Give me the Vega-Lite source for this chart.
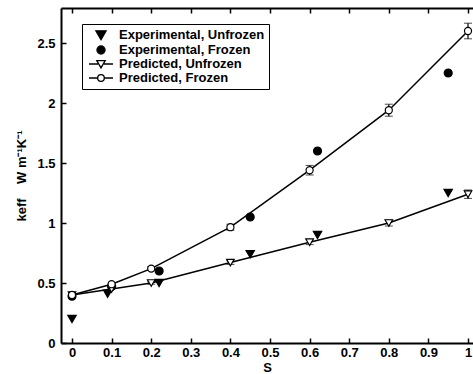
{
  "$schema": "https://vega.github.io/schema/vega-lite/v6.json",
  "width": 412,
  "height": 335,
  "autosize": {"type": "none"},
  "padding": {"left": 61, "top": 8, "right": 0, "bottom": 31},
  "background": "white",
  "config": {
    "view": {"stroke": null},
    "font": "Liberation Sans",
    "axis": {
      "grid": false,
      "domainColor": "black",
      "domainWidth": 2,
      "tickColor": "black",
      "tickWidth": 1.5,
      "tickSize": -5,
      "labelFont": "Liberation Sans",
      "labelFontWeight": "bold",
      "labelFontSize": 13,
      "labelColor": "black",
      "titleFont": "Liberation Sans",
      "titleFontWeight": "bold",
      "titleFontSize": 13,
      "titleColor": "black"
    },
    "legend": {
      "labelFont": "Liberation Sans", "labelFontWeight": "bold", "labelFontSize": 13, "labelColor": "black"
    }
  },
  "data": {
    "values": [
      {"series": "Experimental, Unfrozen", "S": 0, "k": 0.2},
      {"series": "Experimental, Unfrozen", "S": 0.09, "k": 0.41},
      {"series": "Experimental, Unfrozen", "S": 0.22, "k": 0.5},
      {"series": "Experimental, Unfrozen", "S": 0.45, "k": 0.74},
      {"series": "Experimental, Unfrozen", "S": 0.62, "k": 0.9},
      {"series": "Experimental, Unfrozen", "S": 0.95, "k": 1.25},
      {"series": "Experimental, Frozen", "S": 0, "k": 0.39},
      {"series": "Experimental, Frozen", "S": 0.1, "k": 0.47},
      {"series": "Experimental, Frozen", "S": 0.22, "k": 0.6},
      {"series": "Experimental, Frozen", "S": 0.45, "k": 1.05},
      {"series": "Experimental, Frozen", "S": 0.62, "k": 1.6},
      {"series": "Experimental, Frozen", "S": 0.95, "k": 2.25},
      {"series": "Predicted, Unfrozen", "S": 0, "k": 0.4, "lo": 0.39, "hi": 0.41},
      {"series": "Predicted, Unfrozen", "S": 0.1, "k": 0.45, "lo": 0.44, "hi": 0.46},
      {"series": "Predicted, Unfrozen", "S": 0.2, "k": 0.5, "lo": 0.49, "hi": 0.51},
      {"series": "Predicted, Unfrozen", "S": 0.4, "k": 0.67, "lo": 0.655, "hi": 0.685},
      {"series": "Predicted, Unfrozen", "S": 0.6, "k": 0.84, "lo": 0.82, "hi": 0.86},
      {"series": "Predicted, Unfrozen", "S": 0.8, "k": 1.0, "lo": 0.975, "hi": 1.025},
      {"series": "Predicted, Unfrozen", "S": 1.0, "k": 1.24, "lo": 1.205, "hi": 1.275},
      {"series": "Predicted, Frozen", "S": 0, "k": 0.4, "lo": 0.39, "hi": 0.41},
      {"series": "Predicted, Frozen", "S": 0.1, "k": 0.49, "lo": 0.48, "hi": 0.5},
      {"series": "Predicted, Frozen", "S": 0.2, "k": 0.62, "lo": 0.605, "hi": 0.635},
      {"series": "Predicted, Frozen", "S": 0.4, "k": 0.965, "lo": 0.94, "hi": 0.99},
      {"series": "Predicted, Frozen", "S": 0.6, "k": 1.44, "lo": 1.4, "hi": 1.48},
      {"series": "Predicted, Frozen", "S": 0.8, "k": 1.94, "lo": 1.89, "hi": 1.99},
      {"series": "Predicted, Frozen", "S": 1.0, "k": 2.6, "lo": 2.535, "hi": 2.665}
    ]
  },
  "resolve": {"axis": {"x": "independent"}, "scale": {"shape": "independent", "fill": "independent", "size": "independent", "stroke": "independent"}},
  "layer": [
    {
      "transform": [{"filter": "indexof(datum.series, 'Predicted') === 0"}],
      "mark": {"type": "line", "color": "black", "strokeWidth": 1.5},
      "encoding": {
        "x": {"field": "S", "type": "quantitative",
              "scale": {"domain": [-0.0278, 1.0126], "nice": false, "zero": false},
              "axis": {"orient": "bottom", "values": [0, 0.1, 0.2, 0.3, 0.4, 0.5, 0.6, 0.7, 0.8, 0.9, 1], "format": "~g", "labelPadding": 8, "title": "S", "titlePadding": 2}},
        "y": {"field": "k", "type": "quantitative",
              "scale": {"domain": [0, 2.7917], "nice": false},
              "axis": {"values": [0, 0.5, 1, 1.5, 2, 2.5], "format": "~g", "labelPadding": 11, "title": "keff\u00a0\u00a0\u00a0\u00a0W m⁻¹K⁻¹", "titlePadding": 8}},
        "detail": {"field": "series"}
      }
    },
    {
      "transform": [{"filter": "isValid(datum.lo) && datum.S >= 0.2"}],
      "mark": {"type": "errorbar", "color": "black", "ticks": {"size": 8, "color": "black"}, "rule": {"strokeWidth": 1.2}},
      "encoding": {
        "x": {"field": "S", "type": "quantitative", "axis": null},
        "y": {"field": "lo", "type": "quantitative",
              "axis": {"values": [0, 0.5, 1, 1.5, 2, 2.5], "format": "~g", "labelPadding": 11, "title": "keff\u00a0\u00a0\u00a0\u00a0W m⁻¹K⁻¹", "titlePadding": 8}},
        "y2": {"field": "hi"}
      }
    },
    {
      "mark": {"type": "point", "filled": true, "stroke": "black", "strokeWidth": 1.2, "opacity": 1},
      "encoding": {
        "x": {"field": "S", "type": "quantitative",
              "axis": {"orient": "top", "values": [0, 0.1, 0.2, 0.3, 0.4, 0.5, 0.6, 0.7, 0.8, 0.9, 1], "labels": false, "title": null}},
        "y": {"field": "k", "type": "quantitative",
              "axis": {"values": [0, 0.5, 1, 1.5, 2, 2.5], "format": "~g", "labelPadding": 11, "title": "keff\u00a0\u00a0\u00a0\u00a0W m⁻¹K⁻¹", "titlePadding": 8}},
        "shape": {"field": "series", "type": "nominal",
                  "scale": {"domain": ["Experimental, Unfrozen", "Experimental, Frozen", "Predicted, Unfrozen", "Predicted, Frozen"],
                            "range": ["triangle-down", "circle", "triangle-down", "circle"]},
                  "legend": null},
        "fill": {"field": "series", "type": "nominal",
                 "scale": {"domain": ["Experimental, Unfrozen", "Experimental, Frozen", "Predicted, Unfrozen", "Predicted, Frozen"],
                           "range": ["black", "black", "white", "white"]},
                 "legend": null},
        "size": {"field": "series", "type": "nominal",
                 "scale": {"domain": ["Experimental, Unfrozen", "Experimental, Frozen", "Predicted, Unfrozen", "Predicted, Frozen"],
                           "range": [70, 50, 45, 35]},
                 "legend": null}
      }
    },
    {
      "transform": [{"filter": "false"}],
      "mark": {"type": "point", "filled": true, "strokeWidth": 1.3, "opacity": 1},
      "encoding": {
        "x": {"field": "S", "type": "quantitative", "axis": null},
        "y": {"field": "k", "type": "quantitative",
              "axis": {"values": [0, 0.5, 1, 1.5, 2, 2.5], "format": "~g", "labelPadding": 11, "title": "keff\u00a0\u00a0\u00a0\u00a0W m⁻¹K⁻¹", "titlePadding": 8}},
        "shape": {"field": "series", "type": "nominal",
                  "scale": {"domain": ["Experimental, Unfrozen", "Experimental, Frozen", "Predicted, Unfrozen", "Predicted, Frozen"],
                            "range": ["M-0.85,-0.7L0.85,-0.7L0,0.8Z", "M0.67,0A0.67,0.67,0,1,1,-0.67,0A0.67,0.67,0,1,1,0.67,0Z", "M-2,0H-0.5M0.5,0H2M-0.7,-0.55L0.7,-0.55L0,0.65Z", "M-2,0H-0.55M0.55,0H2M0.55,0A0.55,0.55,0,1,1,-0.55,0A0.55,0.55,0,1,1,0.55,0Z"]},
                  "legend": {
                    "title": null, "orient": "none", "legendX": 21, "legendY": 16,
                    "strokeColor": "black", "padding": 4, "symbolOffset": 8, "labelOffset": 11,
                    "rowPadding": 0, "symbolSize": 144, "symbolStrokeWidth": 1.3
                  }},
        "fill": {"field": "series", "type": "nominal",
                 "scale": {"domain": ["Experimental, Unfrozen", "Experimental, Frozen", "Predicted, Unfrozen", "Predicted, Frozen"],
                           "range": ["black", "black", "white", "white"]},
                 "legend": {
                    "title": null, "orient": "none", "legendX": 21, "legendY": 16,
                    "strokeColor": "black", "padding": 4, "symbolOffset": 8, "labelOffset": 11,
                    "rowPadding": 0, "symbolSize": 144, "symbolStrokeWidth": 1.3
                  }},
        "stroke": {"field": "series", "type": "nominal",
                 "scale": {"domain": ["Experimental, Unfrozen", "Experimental, Frozen", "Predicted, Unfrozen", "Predicted, Frozen"],
                           "range": ["black", "black", "black", "black"]},
                 "legend": {
                    "title": null, "orient": "none", "legendX": 21, "legendY": 16,
                    "strokeColor": "black", "padding": 4, "symbolOffset": 8, "labelOffset": 11,
                    "rowPadding": 0, "symbolSize": 144, "symbolStrokeWidth": 1.3
                  }}
      }
    }
  ]
}
